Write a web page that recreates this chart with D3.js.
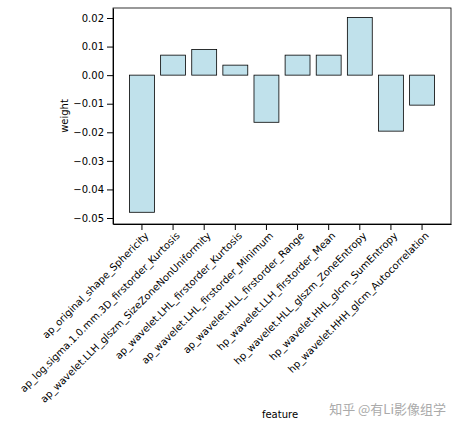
<!DOCTYPE html>
<html><head><meta charset="utf-8">
<script src="https://cdn.jsdelivr.net/npm/d3@7"></script>
<style>body{margin:0;background:#fff}text{font-family:"DejaVu Sans",sans-serif}</style>
</head><body><div id="chart"></div>
<script>
const features = ['ap_original_shape_Sphericity','ap_log.sigma.1.0.mm.3D_firstorder_Kurtosis',
  'ap_wavelet.LLH_glszm_SizeZoneNonUniformity','ap_wavelet.LHL_firstorder_Kurtosis',
  'ap_wavelet.LHL_firstorder_Minimum','ap_wavelet.HLL_firstorder_Range',
  'hp_wavelet.LLH_firstorder_Mean','hp_wavelet.HLL_glszm_ZoneEntropy',
  'hp_wavelet.HHL_glcm_SumEntropy','hp_wavelet.HHH_glcm_Autocorrelation']
const weights = [-0.048, 0.007, 0.009, 0.0035, -0.0165, 0.007, 0.007, 0.0202, -0.0196, -0.0105]
const yTicks = [0.02, 0.01, 0, -0.01, -0.02, -0.03, -0.04, -0.05]

const margin = {top: 8, left: 113, right: 4, bottom: 203}
const W = 455, H = 427
const width = W - margin.left - margin.right
const height = H - margin.top - margin.bottom

const svg = d3.select('#chart').append('svg').attr('width', W).attr('height', H)
  .append('g').attr('transform', `translate(${margin.left},${margin.top})`)

const x = d3.scaleBand().domain(features).range([0, width]).paddingInner(0.2).paddingOuter(0.53)
const y = d3.scaleLinear().domain([-0.0521, 0.0235]).range([height, 0])

svg.selectAll('rect.bar').data(features).enter().append('rect')
  .attr('x', d => x(d))
  .attr('width', x.bandwidth())
  .attr('y', (d, i) => y(Math.max(0, weights[i])))
  .attr('height', (d, i) => Math.abs(y(weights[i]) - y(0)))
  .attr('fill', '#c0e1eb').attr('stroke', '#000').attr('stroke-width', 0.8)

svg.append('g').call(d3.axisLeft(y).tickValues(yTicks).tickFormat(d3.format('.2f')).tickSizeOuter(0))
  .call(g => g.selectAll('text').attr('font-size', 10).attr('fill', '#000')
    .text(d => d3.format('.2f')(d).replace('-', '\u2212')))

svg.append('g').attr('transform', `translate(0,${height})`)
  .call(d3.axisBottom(x).tickSizeOuter(0))
  .call(g => g.selectAll('text').attr('font-size', 10).attr('fill', '#000')
    .attr('text-anchor', 'end').attr('dy', 0)
    .attr('transform', 'translate(1,6) rotate(-45)'))

svg.append('rect').attr('width', width).attr('height', height)
  .attr('fill', 'none').attr('stroke', '#000').attr('stroke-width', 0.8)

svg.append('text').attr('transform', `translate(-45,${height / 2}) rotate(-90)`)
  .attr('text-anchor', 'middle').attr('font-size', 10).text('weight')
d3.select('svg').append('text').attr('x', 280).attr('y', 418)
  .attr('text-anchor', 'middle').attr('font-size', 10).text('feature')
d3.select('svg').append('text').attr('x', 446).attr('y', 414)
  .attr('text-anchor', 'end').attr('font-size', 13).attr('fill', '#aaa')
  .style('font-family', '"Noto Sans CJK SC"').text('知乎 @有Li影像组学')
</script></body></html>
